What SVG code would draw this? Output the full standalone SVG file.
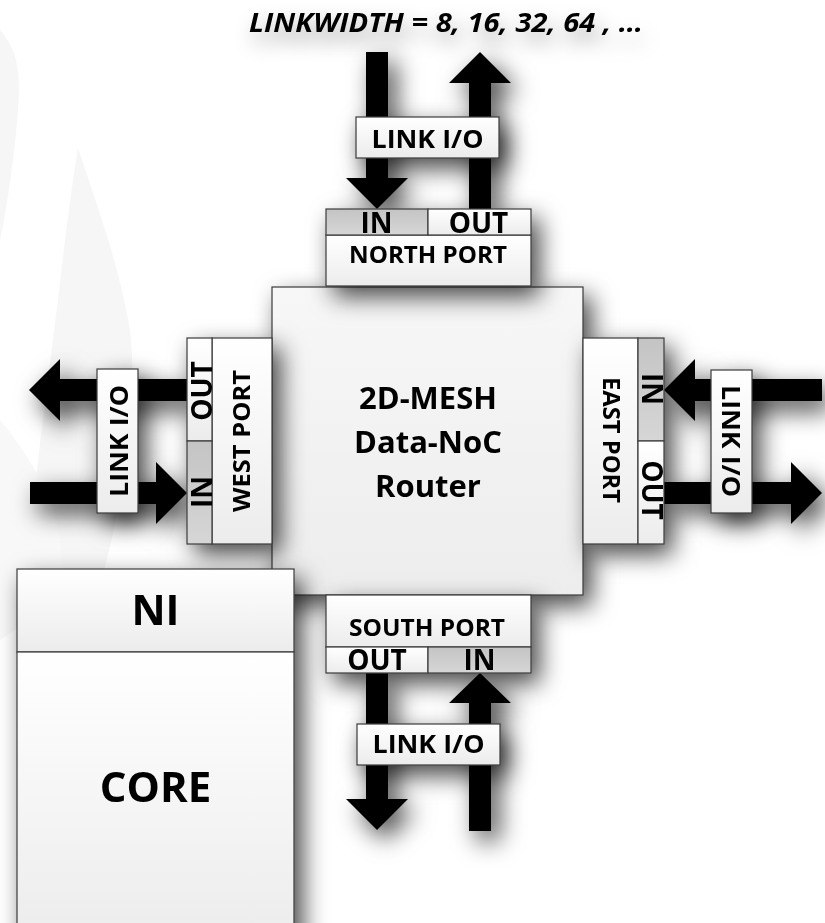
<svg xmlns="http://www.w3.org/2000/svg" width="825" height="923" viewBox="0 0 825 923">
  <style>
    .box { stroke: #3a3a3a; stroke-width: 1.2; }
    .lbl { font-family: "Open Sans", "Liberation Sans", sans-serif; font-weight: bold; fill: #000; text-anchor: middle; }
    .arrow { fill: #000; }
    .cell-in { fill: url(#gIn); }
    .cell-w { fill: url(#gWhite); }
  </style>
  <defs>
    <linearGradient id="gWhite" x1="0" y1="0" x2="0" y2="1">
      <stop offset="0" stop-color="#ffffff"/>
      <stop offset="1" stop-color="#ececec"/>
    </linearGradient>
    <linearGradient id="gRouter" x1="0" y1="0" x2="0" y2="1">
      <stop offset="0" stop-color="#f7f7f7"/>
      <stop offset="1" stop-color="#ededed"/>
    </linearGradient>
    <linearGradient id="gIn" x1="0" y1="0" x2="0" y2="1">
      <stop offset="0" stop-color="#c4c4c4"/>
      <stop offset="1" stop-color="#d6d6d6"/>
    </linearGradient>
    <filter id="shadow" filterUnits="userSpaceOnUse" x="-60" y="-60" width="945" height="1043">
      <feDropShadow dx="8" dy="10" stdDeviation="12" flood-color="#000" flood-opacity="0.72"/>
    </filter>
    <filter id="textShadow" filterUnits="userSpaceOnUse" x="-60" y="-60" width="945" height="200">
      <feDropShadow dx="4" dy="10" stdDeviation="10" flood-color="#000" flood-opacity="0.35"/>
    </filter>
  </defs>

  <!-- page background with faint swoosh watermark -->
  <rect x="0" y="0" width="825" height="923" fill="#ffffff"/>
  <g id="watermark" fill="#f6f6f6">
    <path d="M0,30 C12,45 22,60 18,110 C14,160 8,200 0,240 Z"/>
    <path d="M78,148 C95,200 118,260 130,330 C140,420 120,520 90,620 L20,640 C30,520 45,400 58,300 C66,230 72,185 78,148 Z"/>
    <path d="M0,420 C40,470 70,520 60,600 L0,640 Z" fill="#f8f8f8"/>
  </g>

  <!-- link arrows -->
  <g id="connectors" filter="url(#shadow)">
    <!-- north: into IN (down), out of OUT (up) -->
    <polygon class="arrow" points="366,52 388,52 388,178 408,178 377,209 346,178 366,178"/>
    <polygon class="arrow" points="469,209 491,209 491,83 511,83 480,52 449,83 469,83"/>
    <!-- west: OUT (left), IN (right) -->
    <polygon class="arrow" points="187,379 187,401 60,401 60,421 29,390 60,359 60,379"/>
    <polygon class="arrow" points="30,482 30,504 156,504 156,524 187,493 156,462 156,482"/>
    <!-- east: IN (left), OUT (right) -->
    <polygon class="arrow" points="822,379 822,401 695,401 695,421 664,390 695,359 695,379"/>
    <polygon class="arrow" points="664,482 664,504 791,504 791,524 822,493 791,462 791,482"/>
    <!-- south: OUT (down), IN (up) -->
    <polygon class="arrow" points="366,673 388,673 388,799 408,799 377,830 346,799 366,799"/>
    <polygon class="arrow" points="469,831 491,831 491,703 511,703 480,673 449,703 469,703"/>
  </g>

  <!-- router core -->
  <g id="router" filter="url(#shadow)">
    <rect class="box" x="272" y="287" width="311" height="308" fill="url(#gRouter)"/>
    <text class="lbl" x="428" y="409" font-size="31">2D-MESH</text>
    <text class="lbl" x="428" y="453" font-size="31">Data-NoC</text>
    <text class="lbl" x="428" y="497" font-size="31">Router</text>
  </g>

  <!-- north port -->
  <g id="north-port" filter="url(#shadow)">
    <rect class="box cell-w" x="326" y="235" width="205" height="51"/>
    <rect class="box cell-in" x="326" y="209" width="102" height="26"/>
    <rect class="box cell-w" x="428" y="209" width="103" height="26"/>
    <text class="lbl" x="376.5" y="232.5" font-size="28">IN</text>
    <text class="lbl" x="478.5" y="232.5" font-size="28">OUT</text>
    <text class="lbl" x="428" y="263" font-size="24" textLength="158" lengthAdjust="spacingAndGlyphs">NORTH PORT</text>
  </g>

  <!-- west port -->
  <g id="west-port" filter="url(#shadow)">
    <rect class="box cell-w" x="212" y="338" width="60" height="206"/>
    <rect class="box cell-w" x="187" y="338" width="25" height="103"/>
    <rect class="box cell-in" x="187" y="441" width="25" height="103"/>
    <text class="lbl" font-size="28" transform="translate(211.5,391) rotate(-90)">OUT</text>
    <text class="lbl" font-size="28" transform="translate(211.5,492) rotate(-90)">IN</text>
    <text class="lbl" font-size="24" transform="translate(250,441) rotate(-90)" textLength="142" lengthAdjust="spacingAndGlyphs">WEST PORT</text>
  </g>

  <!-- east port -->
  <g id="east-port" filter="url(#shadow)">
    <rect class="box cell-w" x="583" y="338" width="55" height="206"/>
    <rect class="box cell-in" x="638" y="338" width="26" height="103"/>
    <rect class="box cell-w" x="638" y="441" width="26" height="103"/>
    <text class="lbl" font-size="28" transform="translate(641.5,389) rotate(90)">IN</text>
    <text class="lbl" font-size="28" transform="translate(641.5,490) rotate(90)">OUT</text>
    <text class="lbl" font-size="24" transform="translate(603,440) rotate(90)" textLength="126" lengthAdjust="spacingAndGlyphs">EAST PORT</text>
  </g>

  <!-- south port -->
  <g id="south-port" filter="url(#shadow)">
    <rect class="box cell-w" x="326" y="595" width="205" height="52"/>
    <rect class="box cell-w" x="326" y="647" width="102" height="26"/>
    <rect class="box cell-in" x="428" y="647" width="103" height="26"/>
    <text class="lbl" x="427" y="636" font-size="24" textLength="156" lengthAdjust="spacingAndGlyphs">SOUTH PORT</text>
    <text class="lbl" x="377" y="669.5" font-size="28">OUT</text>
    <text class="lbl" x="479.5" y="669.5" font-size="28">IN</text>
  </g>

  <!-- network interface and core -->
  <g id="ni-core" filter="url(#shadow)">
    <rect class="box cell-w" x="17" y="569" width="277" height="83"/>
    <rect class="box" x="17" y="652" width="277" height="290" fill="url(#gWhite)"/>
    <text class="lbl" x="155.5" y="625" font-size="42">NI</text>
    <text class="lbl" x="155.5" y="802" font-size="42">CORE</text>
  </g>

  <!-- link I/O labels -->
  <g id="link-north" filter="url(#shadow)">
    <rect class="box cell-w" x="356" y="117" width="143" height="41"/>
    <text class="lbl" x="427.5" y="148" font-size="25" textLength="112" lengthAdjust="spacingAndGlyphs">LINK I/O</text>
  </g>
  <g id="link-south" filter="url(#shadow)">
    <rect class="box cell-w" x="357" y="724" width="143" height="41"/>
    <text class="lbl" x="428.5" y="753" font-size="25" textLength="112" lengthAdjust="spacingAndGlyphs">LINK I/O</text>
  </g>
  <g id="link-west" filter="url(#shadow)">
    <rect class="box cell-w" x="97" y="369" width="41" height="144"/>
    <text class="lbl" font-size="25" transform="translate(128,441) rotate(-90)" textLength="112" lengthAdjust="spacingAndGlyphs">LINK I/O</text>
  </g>
  <g id="link-east" filter="url(#shadow)">
    <rect class="box cell-w" x="711" y="370" width="41" height="143"/>
    <text class="lbl" font-size="25" transform="translate(722,441) rotate(90)" textLength="112" lengthAdjust="spacingAndGlyphs">LINK I/O</text>
  </g>

  <!-- link width caption -->
  <g id="caption" filter="url(#textShadow)">
    <text x="249" y="32" font-family="'Open Sans', 'Liberation Sans', sans-serif" font-weight="bold" font-style="italic" font-size="26" fill="#000" textLength="394" lengthAdjust="spacingAndGlyphs">LINKWIDTH = 8, 16, 32, 64 , …</text>
  </g>
</svg>
